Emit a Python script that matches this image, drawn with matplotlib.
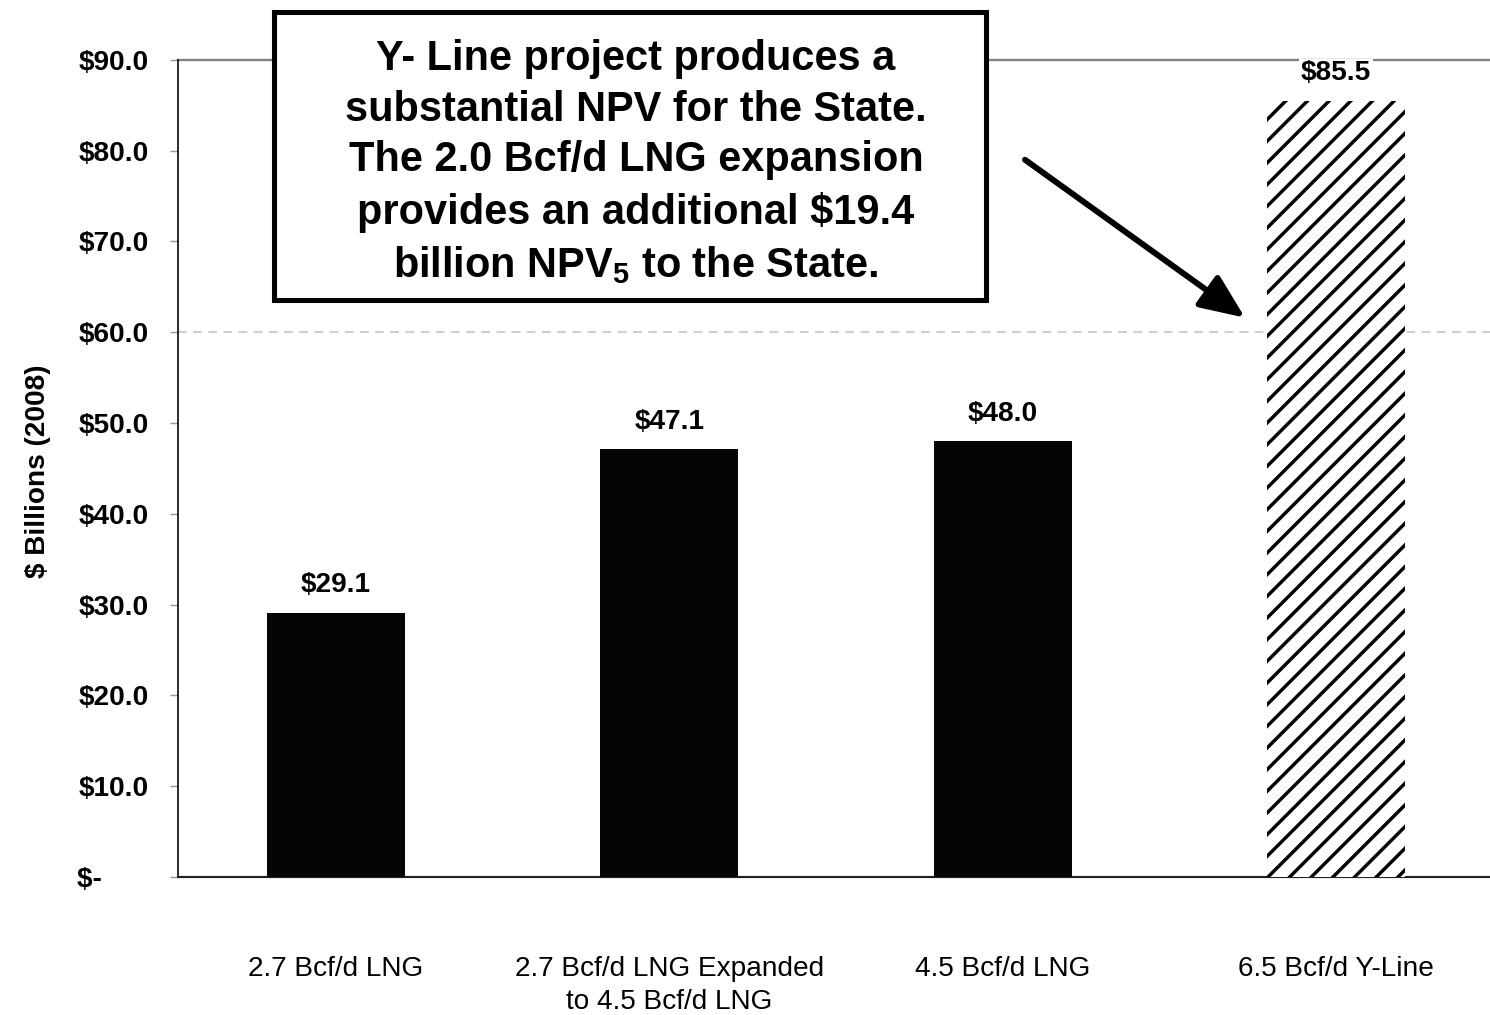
import matplotlib.pyplot as plt
from matplotlib.patches import Rectangle

plt.rcParams['font.family'] = 'Liberation Sans'
plt.rcParams['mathtext.fontset'] = 'custom'
plt.rcParams['mathtext.default'] = 'regular'
plt.rcParams['hatch.linewidth'] = 1.9
plt.rcParams['hatch.color'] = 'black'

# NPV to the State by development case ($ billions, 2008)
categories = ['2.7 Bcf/d LNG', '2.7 Bcf/d LNG Expanded\nto 4.5 Bcf/d LNG',
              '4.5 Bcf/d LNG', '6.5 Bcf/d Y-Line']
npv = [29.1, 47.1, 48.0, 85.5]
value_labels = ['$29.1', '$47.1', '$48.0', '$85.5']
bar_colors = ['#050505', '#050505', '#050505', 'white']
bar_hatches = [None, None, None, '//']

y_ticks = [0, 10, 20, 30, 40, 50, 60, 70, 80, 90]
y_tick_labels = ['$-      ', '$10.0', '$20.0', '$30.0', '$40.0', '$50.0',
                 '$60.0', '$70.0', '$80.0', '$90.0']

note = ('Y- Line project produces a\n'
        'substantial NPV for the State.\n'
        'The 2.0 Bcf/d LNG expansion\n'
        r'provides an additional \$19.4' '\n'
        r'billion NPV$_5$ to the State.')

fig = plt.figure(figsize=(1490 / 130, 1015 / 130), dpi=130)
ax = fig.add_axes([0.1195, 0.136, 0.8805, 0.805])

x = list(range(len(categories)))
bars = ax.bar(x, npv, width=0.414, color=bar_colors, edgecolor='black',
              linewidth=0, zorder=3)
for bar, h in zip(bars, bar_hatches):
    if h:
        bar.set_hatch(h)

# value labels above each bar
for bar, label in zip(bars, value_labels):
    ax.annotate(label, (bar.get_x() + bar.get_width() / 2, bar.get_height()),
                xytext=(0, 8), textcoords='offset points', ha='center',
                va='bottom', fontsize=15.5, fontweight='bold', zorder=4,
                bbox=dict(fc='white', ec='none', pad=1))

# only the 60 and 90 gridlines show
ax.axhline(60, color='#cfcfcf', lw=1.2, ls=(0, (4, 3)), zorder=1)
ax.axhline(90, color='#808080', lw=1.3, zorder=1, clip_on=False)

ax.set_xlim(-0.474, 3.462)
ax.set_ylim(0, 90)
ax.set_yticks(y_ticks)
ax.set_yticklabels(y_tick_labels, fontsize=15.5, fontweight='bold')
ax.set_xticks(x)
ax.set_xticklabels(categories, fontsize=15.5, linespacing=1.33)
ax.tick_params(axis='y', length=4.4, width=0.8, color='#999999', pad=12)
ax.tick_params(axis='x', length=0, pad=44)

for side in ['top', 'right']:
    ax.spines[side].set_visible(False)
ax.spines['left'].set_linewidth(0.9)
ax.spines['bottom'].set_linewidth(1.2)
ax.spines['bottom'].set_color('#222222')

ax.set_ylabel('$ Billions (2008)', fontsize=15.5, fontweight='bold')
ax.yaxis.set_label_coords(-0.097, 0.497)

# callout box and arrow to the Y-Line bar
fig.add_artist(Rectangle((274 / 1490, (1015 - 300) / 1015), 712 / 1490, 288 / 1015,
                         transform=fig.transFigure, fc='white', ec='black',
                         lw=2.8, zorder=5))
fig.text(0.4268, 0.8400, note, ha='center', va='center', fontsize=23,
         fontweight='bold', linespacing=1.35, multialignment='center', zorder=6)

ax.annotate('', xy=(2.727, 61.6), xytext=(2.067, 79.0),
            arrowprops=dict(arrowstyle='-|>,head_length=1.4,head_width=0.6',
                            mutation_scale=15, lw=3.3, color='black',
                            shrinkA=0, shrinkB=0))

fig.savefig('out.png', dpi=130)
